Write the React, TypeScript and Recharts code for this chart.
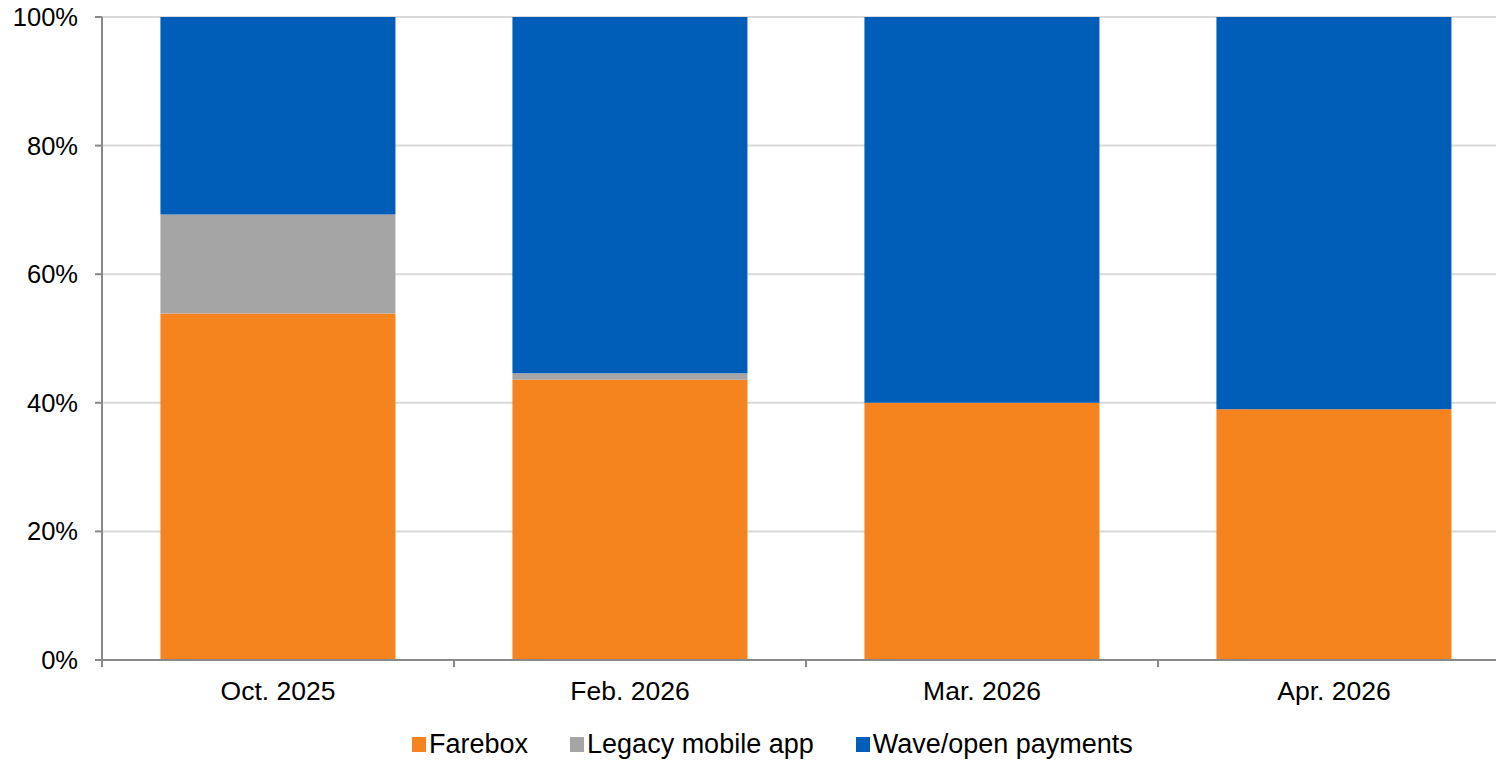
import React from "react"
import { BarChart, Bar, XAxis, YAxis, CartesianGrid, Legend } from "recharts"

const months = ["Oct. 2025", "Feb. 2026", "Mar. 2026", "Apr. 2026"]
const farebox = [53.9, 43.6, 40.0, 39.0]
const legacyApp = [15.4, 1.0, 0, 0]
const wavePayments = [30.7, 55.4, 60.0, 61.0]
const yTicks = [0, 20, 40, 60, 80, 100]

const SERIES = [
  { key: "farebox", name: "Farebox", color: "#F5841F" },
  { key: "legacy", name: "Legacy mobile app", color: "#A5A5A5" },
  { key: "wave", name: "Wave/open payments", color: "#005EB8" },
]

const FONT = '"Liberation Sans", Arial, sans-serif'
const AXIS = "#898989"

const data = months.map((month, i) => ({
  month,
  farebox: farebox[i],
  legacy: legacyApp[i],
  wave: wavePayments[i],
}))

// label under the category, with the tick marks sitting on the category boundaries
function MonthTick(props: any) {
  const { x, y, payload } = props
  const half = payload?.offset || 176
  const axisY = y - 7
  return (
    <g>
      <line x1={x - half} y1={axisY} x2={x - half} y2={axisY + 7} stroke={AXIS} strokeWidth={2} />
      <text x={x} y={axisY + 40} textAnchor="middle" fill="#000" fontSize={26.5} fontFamily={FONT}>
        {payload.value}
      </text>
    </g>
  )
}

function LegendRow() {
  return (
    <div style={{ display: "flex", height: 26, fontFamily: FONT, fontSize: 27, lineHeight: "26px", color: "#000" }}>
      {SERIES.map((s, i) => (
        <div key={s.key} style={{ display: "flex", alignItems: "flex-start", marginLeft: i === 0 ? 0 : 42, whiteSpace: "nowrap" }}>
          <span style={{ width: 14, height: 15, marginTop: 1, marginRight: 3, background: s.color, display: "inline-block" }} />
          <span style={{ marginTop: -5 }}>{s.name}</span>
        </div>
      ))}
    </div>
  )
}

export default function App() {
  return (
    <div style={{ position: "absolute", left: 0, top: 0, width: 1496, height: 762, overflow: "hidden", background: "#fff" }}>
      <BarChart
        width={1510}
        height={762}
        data={data}
        margin={{ top: 17, right: 0, bottom: 0, left: 0 }}
        barCategoryGap="16.6%"
      >
        <CartesianGrid vertical={false} stroke="#D9D9D9" strokeWidth={2} />
        <XAxis
          dataKey="month"
          height={76}
          tickLine={false}
          tickSize={7}
          tickMargin={0}
          axisLine={{ stroke: AXIS, strokeWidth: 2 }}
          tick={<MonthTick />}
          interval={0}
        />
        <YAxis
          width={102}
          domain={[0, 100]}
          ticks={yTicks}
          tickFormatter={(v) => `${v}%`}
          tickSize={7}
          tickMargin={17}
          tickLine={{ stroke: AXIS, strokeWidth: 2 }}
          axisLine={{ stroke: AXIS, strokeWidth: 2 }}
          tick={{ fill: "#000", fontSize: 25.5, fontFamily: FONT }}
        />
        <Legend content={<LegendRow />} verticalAlign="bottom" wrapperStyle={{ left: 412, width: "auto" }} />
        {SERIES.map((s) => (
          <Bar key={s.key} dataKey={s.key} name={s.name} stackId="a" fill={s.color} isAnimationActive={false} />
        ))}
      </BarChart>
    </div>
  )
}
